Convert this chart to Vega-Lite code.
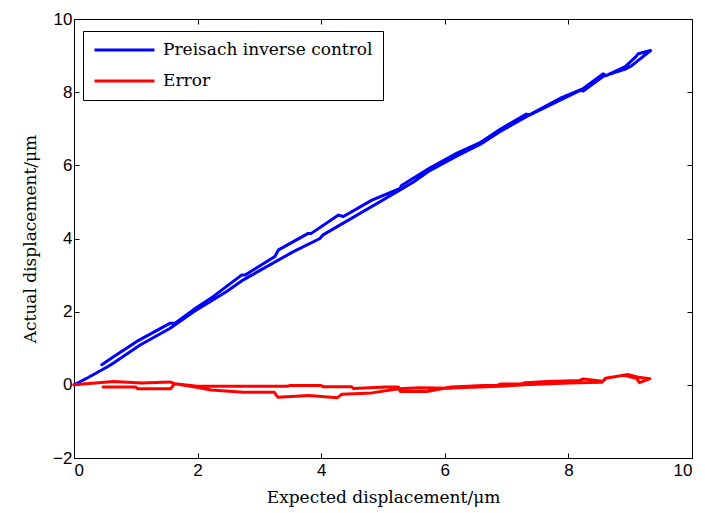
{
  "$schema": "https://vega.github.io/schema/vega-lite/v6.json",
  "autosize": {"type": "none"},
  "width": 618,
  "height": 439,
  "padding": {"left": 74, "top": 19, "right": 13, "bottom": 55},
  "background": "white",
  "config": {
    "view": {"stroke": "black", "strokeWidth": 1},
    "axis": {
      "grid": false,
      "domainColor": "black",
      "tickColor": "black",
      "tickSize": -5,
      "labelFont": "Liberation Sans",
      "labelFontSize": 17,
      "labelColor": "black",
      "titleFont": "DejaVu Serif",
      "titleFontSize": 17,
      "titleFontWeight": "normal",
      "titleColor": "black"
    }
  },
  "datasets": {
    "curves": [
      {"series": "Preisach inverse control", "i": 1, "x": 0, "y": 0},
      {"series": "Preisach inverse control", "i": 2, "x": 0.23, "y": 0.2},
      {"series": "Preisach inverse control", "i": 3, "x": 0.55, "y": 0.5},
      {"series": "Preisach inverse control", "i": 4, "x": 0.64, "y": 0.6},
      {"series": "Preisach inverse control", "i": 5, "x": 1.07, "y": 1.09},
      {"series": "Preisach inverse control", "i": 6, "x": 1.55, "y": 1.54},
      {"series": "Preisach inverse control", "i": 7, "x": 1.93, "y": 1.99},
      {"series": "Preisach inverse control", "i": 8, "x": 2.47, "y": 2.55},
      {"series": "Preisach inverse control", "i": 9, "x": 2.74, "y": 2.87},
      {"series": "Preisach inverse control", "i": 10, "x": 3.55, "y": 3.64},
      {"series": "Preisach inverse control", "i": 11, "x": 3.98, "y": 4.0},
      {"series": "Preisach inverse control", "i": 12, "x": 4.03, "y": 4.1},
      {"series": "Preisach inverse control", "i": 13, "x": 5.27, "y": 5.32},
      {"series": "Preisach inverse control", "i": 14, "x": 5.5, "y": 5.55},
      {"series": "Preisach inverse control", "i": 15, "x": 5.75, "y": 5.85},
      {"series": "Preisach inverse control", "i": 16, "x": 6.19, "y": 6.25},
      {"series": "Preisach inverse control", "i": 17, "x": 6.57, "y": 6.57},
      {"series": "Preisach inverse control", "i": 18, "x": 6.89, "y": 6.92},
      {"series": "Preisach inverse control", "i": 19, "x": 7.32, "y": 7.33},
      {"series": "Preisach inverse control", "i": 20, "x": 7.89, "y": 7.8},
      {"series": "Preisach inverse control", "i": 21, "x": 8.19, "y": 8.05},
      {"series": "Preisach inverse control", "i": 22, "x": 8.24, "y": 8.03},
      {"series": "Preisach inverse control", "i": 23, "x": 8.56, "y": 8.43},
      {"series": "Preisach inverse control", "i": 24, "x": 8.92, "y": 8.63},
      {"series": "Preisach inverse control", "i": 25, "x": 9.02, "y": 8.72},
      {"series": "Preisach inverse control", "i": 26, "x": 9.33, "y": 9.14},
      {"series": "Preisach inverse control", "i": 27, "x": 9.13, "y": 9.05},
      {"series": "Preisach inverse control", "i": 28, "x": 9.08, "y": 8.95},
      {"series": "Preisach inverse control", "i": 29, "x": 8.92, "y": 8.7},
      {"series": "Preisach inverse control", "i": 30, "x": 8.61, "y": 8.45},
      {"series": "Preisach inverse control", "i": 31, "x": 8.56, "y": 8.5},
      {"series": "Preisach inverse control", "i": 32, "x": 8.24, "y": 8.1},
      {"series": "Preisach inverse control", "i": 33, "x": 7.89, "y": 7.85},
      {"series": "Preisach inverse control", "i": 34, "x": 7.37, "y": 7.38},
      {"series": "Preisach inverse control", "i": 35, "x": 7.32, "y": 7.4},
      {"series": "Preisach inverse control", "i": 36, "x": 6.89, "y": 6.98},
      {"series": "Preisach inverse control", "i": 37, "x": 6.57, "y": 6.62},
      {"series": "Preisach inverse control", "i": 38, "x": 6.19, "y": 6.33},
      {"series": "Preisach inverse control", "i": 39, "x": 5.75, "y": 5.92},
      {"series": "Preisach inverse control", "i": 40, "x": 5.3, "y": 5.45},
      {"series": "Preisach inverse control", "i": 41, "x": 5.27, "y": 5.36},
      {"series": "Preisach inverse control", "i": 42, "x": 4.82, "y": 5.05},
      {"series": "Preisach inverse control", "i": 43, "x": 4.36, "y": 4.6},
      {"series": "Preisach inverse control", "i": 44, "x": 4.28, "y": 4.64},
      {"series": "Preisach inverse control", "i": 45, "x": 3.84, "y": 4.14},
      {"series": "Preisach inverse control", "i": 46, "x": 3.79, "y": 4.14},
      {"series": "Preisach inverse control", "i": 47, "x": 3.31, "y": 3.69},
      {"series": "Preisach inverse control", "i": 48, "x": 3.25, "y": 3.51},
      {"series": "Preisach inverse control", "i": 49, "x": 2.77, "y": 3.0},
      {"series": "Preisach inverse control", "i": 50, "x": 2.71, "y": 3.0},
      {"series": "Preisach inverse control", "i": 51, "x": 2.25, "y": 2.41},
      {"series": "Preisach inverse control", "i": 52, "x": 1.93, "y": 2.05},
      {"series": "Preisach inverse control", "i": 53, "x": 1.63, "y": 1.68},
      {"series": "Preisach inverse control", "i": 54, "x": 1.55, "y": 1.68},
      {"series": "Preisach inverse control", "i": 55, "x": 1.01, "y": 1.18},
      {"series": "Preisach inverse control", "i": 56, "x": 0.64, "y": 0.77},
      {"series": "Preisach inverse control", "i": 57, "x": 0.45, "y": 0.55},
      {"series": "Error", "i": 1, "x": 0, "y": 0},
      {"series": "Error", "i": 2, "x": 0.64, "y": 0.09},
      {"series": "Error", "i": 3, "x": 1.1, "y": 0.05},
      {"series": "Error", "i": 4, "x": 1.55, "y": 0.08},
      {"series": "Error", "i": 5, "x": 1.63, "y": 0.03},
      {"series": "Error", "i": 6, "x": 1.96, "y": -0.06},
      {"series": "Error", "i": 7, "x": 2.22, "y": -0.14},
      {"series": "Error", "i": 8, "x": 2.75, "y": -0.2},
      {"series": "Error", "i": 9, "x": 3.24, "y": -0.2},
      {"series": "Error", "i": 10, "x": 3.3, "y": -0.34},
      {"series": "Error", "i": 11, "x": 3.8, "y": -0.29},
      {"series": "Error", "i": 12, "x": 4.26, "y": -0.35},
      {"series": "Error", "i": 13, "x": 4.33, "y": -0.26},
      {"series": "Error", "i": 14, "x": 4.82, "y": -0.22},
      {"series": "Error", "i": 15, "x": 5.25, "y": -0.11},
      {"series": "Error", "i": 16, "x": 5.6, "y": -0.08},
      {"series": "Error", "i": 17, "x": 6.1, "y": -0.09},
      {"series": "Error", "i": 18, "x": 6.89, "y": -0.04},
      {"series": "Error", "i": 19, "x": 7.29, "y": 0.0},
      {"series": "Error", "i": 20, "x": 8.01, "y": 0.05},
      {"series": "Error", "i": 21, "x": 8.54, "y": 0.07},
      {"series": "Error", "i": 22, "x": 8.6, "y": 0.18},
      {"series": "Error", "i": 23, "x": 8.97, "y": 0.28},
      {"series": "Error", "i": 24, "x": 9.13, "y": 0.21},
      {"series": "Error", "i": 25, "x": 9.32, "y": 0.17},
      {"series": "Error", "i": 26, "x": 9.15, "y": 0.06},
      {"series": "Error", "i": 27, "x": 9.1, "y": 0.18},
      {"series": "Error", "i": 28, "x": 8.9, "y": 0.26},
      {"series": "Error", "i": 29, "x": 8.62, "y": 0.19},
      {"series": "Error", "i": 30, "x": 8.56, "y": 0.1},
      {"series": "Error", "i": 31, "x": 8.24, "y": 0.16},
      {"series": "Error", "i": 32, "x": 8.18, "y": 0.12},
      {"series": "Error", "i": 33, "x": 7.66, "y": 0.09},
      {"series": "Error", "i": 34, "x": 7.3, "y": 0.06},
      {"series": "Error", "i": 35, "x": 7.25, "y": 0.03},
      {"series": "Error", "i": 36, "x": 6.9, "y": 0.02},
      {"series": "Error", "i": 37, "x": 6.85, "y": -0.01},
      {"series": "Error", "i": 38, "x": 6.63, "y": -0.02},
      {"series": "Error", "i": 39, "x": 6.1, "y": -0.06},
      {"series": "Error", "i": 40, "x": 5.71, "y": -0.18},
      {"series": "Error", "i": 41, "x": 5.28, "y": -0.18},
      {"series": "Error", "i": 42, "x": 5.25, "y": -0.06},
      {"series": "Error", "i": 43, "x": 5.05, "y": -0.06},
      {"series": "Error", "i": 44, "x": 4.52, "y": -0.1},
      {"series": "Error", "i": 45, "x": 4.49, "y": -0.05},
      {"series": "Error", "i": 46, "x": 4.03, "y": -0.05},
      {"series": "Error", "i": 47, "x": 4.0, "y": -0.02},
      {"series": "Error", "i": 48, "x": 3.5, "y": -0.02},
      {"series": "Error", "i": 49, "x": 3.45, "y": -0.04},
      {"series": "Error", "i": 50, "x": 2.0, "y": -0.04},
      {"series": "Error", "i": 51, "x": 1.63, "y": 0.03},
      {"series": "Error", "i": 52, "x": 1.56, "y": -0.11},
      {"series": "Error", "i": 53, "x": 1.03, "y": -0.11},
      {"series": "Error", "i": 54, "x": 1.0, "y": -0.06},
      {"series": "Error", "i": 55, "x": 0.47, "y": -0.06}
    ]
  },
  "data": {"name": "curves"},
  "layer": [
    {
      "mark": {"type": "line", "strokeWidth": 3, "strokeJoin": "round", "strokeCap": "round"},
      "encoding": {
        "x": {
          "field": "x", "type": "quantitative",
          "scale": {"domain": [0, 10], "nice": false, "zero": false},
          "axis": {"title": "Expected displacement/μm", "values": [0, 2, 4, 6, 8, 10], "labelPadding": 9, "titlePadding": 11}
        },
        "y": {
          "field": "y", "type": "quantitative",
          "scale": {"domain": [-2, 10], "nice": false, "zero": false},
          "axis": {"title": "Actual displacement/μm", "values": [-2, 0, 2, 4, 6, 8, 10], "labelPadding": 7, "titlePadding": 13}
        },
        "order": {"field": "i", "type": "quantitative"},
        "color": {
          "field": "series", "type": "nominal",
          "scale": {"domain": ["Preisach inverse control", "Error"], "range": ["#0000ff", "#ff0000"]},
          "legend": {
            "title": null,
            "orient": "none",
            "legendX": 9,
            "legendY": 12,
            "symbolType": "stroke",
            "symbolSize": 3600,
            "symbolStrokeWidth": 3,
            "clipHeight": 18,
            "labelFont": "DejaVu Serif",
            "labelFontSize": 17,
            "labelLimit": 500,
            "labelColor": "black",
            "labelOffset": 7,
            "rowPadding": 13,
            "strokeColor": "black",
            "fillColor": "white",
            "padding": 10
          }
        }
      }
    },
    {
      "mark": {"type": "line", "opacity": 0},
      "encoding": {
        "x": {
          "field": "x", "type": "quantitative",
          "axis": {"orient": "top", "labels": false, "title": null, "values": [0, 2, 4, 6, 8, 10], "domain": false}
        },
        "y": {
          "field": "y", "type": "quantitative",
          "axis": {"orient": "right", "labels": false, "title": null, "values": [-2, 0, 2, 4, 6, 8, 10], "domain": false}
        },
        "detail": {"field": "series", "type": "nominal"},
        "order": {"field": "i", "type": "quantitative"}
      }
    }
  ],
  "resolve": {"axis": {"x": "independent", "y": "independent"}}
}
